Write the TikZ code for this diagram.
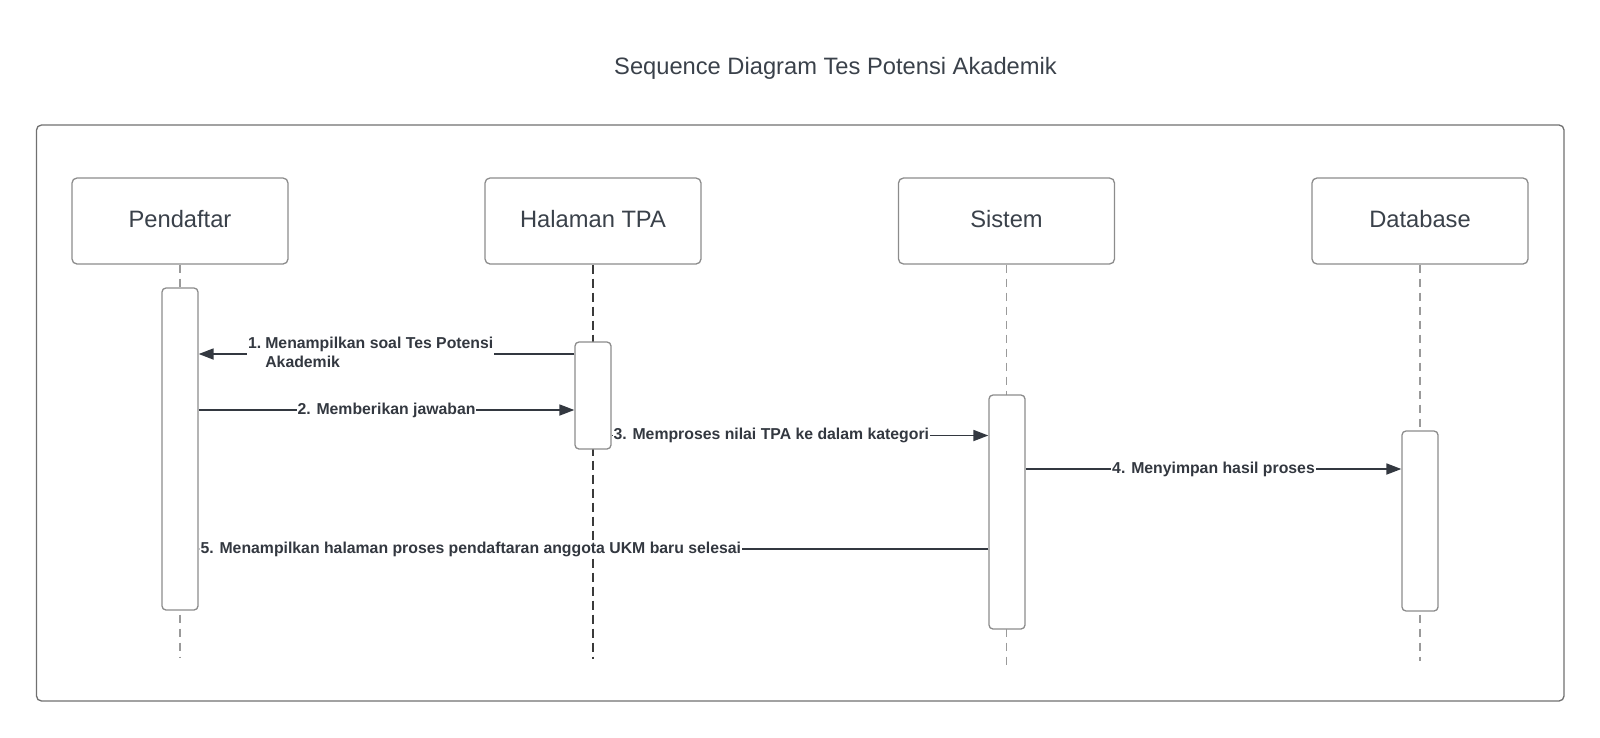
\documentclass[tikz,border=0pt]{standalone}
\usepackage{fontspec}
\setmainfont{Liberation Sans}
\usetikzlibrary{arrows.meta}
\definecolor{txt}{HTML}{3A414A}
\definecolor{msgc}{HTML}{333840}
\definecolor{boxc}{HTML}{8C8C8C}
\definecolor{framec}{HTML}{707070}
\definecolor{lifec}{HTML}{9A9A9A}
\definecolor{lifed}{HTML}{3A3A3A}
\begin{document}
\begin{tikzpicture}[x=1pt,y=-1pt,
  part/.style={draw=boxc, line width=1.3pt, rounded corners=5pt, fill=white,
    minimum width=216pt, minimum height=86pt, text=txt,
    font=\fontsize{23.7}{28}\selectfont, text height=17pt, text depth=5pt, inner sep=0pt},
  act/.style={draw=boxc, line width=1.3pt, rounded corners=4pt, fill=white,
    minimum width=36pt, inner sep=0pt},
  life/.style={draw=lifec, line width=1.2pt, dash pattern=on 8pt off 6pt},
  lifedark/.style={draw=lifed, line width=1.6pt, dash pattern=on 9pt off 5pt},
  msg/.style={draw=msgc, line width=1.8pt, -{Triangle[length=15pt,width=11pt]}},
  lbl/.style={fill=white, text=msgc, font=\fontsize{15.8}{18.7}\selectfont\bfseries,
    inner xsep=1pt, inner ysep=1pt, text height=11.5pt, text depth=3.3pt},
  lblmulti/.style={fill=white, text=msgc, font=\fontsize{15.8}{18.7}\selectfont\bfseries,
    inner xsep=1pt, inner ysep=1pt}
]
\useasboundingbox (0,0) rectangle (1600,737);

% title
\node[font=\fontsize{23.7}{28}\selectfont, text=txt, anchor=base] (title) at (835.5,74.5)
  {Sequence Diagram Tes Potensi Akademik};

% frame
\node[draw=framec, line width=1.3pt, rounded corners=5pt, minimum width=1527.5pt,
  minimum height=576pt, inner sep=0pt] (frame) at (800.25,413) {};

% participants
\node[part] (p) at (180,221) {Pendaftar};
\node[part] (h) at (593,221) {Halaman TPA};
\node[part] (s) at (1006.5,221) {Sistem};
\node[part] (d) at (1420,221) {Database};

% lifeline ends
\coordinate (pe) at (180,657);
\coordinate (he) at (593,659);
\coordinate (se) at (1006.5,665);
\coordinate (de) at (1420,661);

\draw[life] (p.south) -- (pe);
\draw[lifedark] (h.south) -- (he);
\draw[life] (s.south) -- (se);
\draw[life] (d.south) -- (de);

% activations
\node[act, minimum height=322pt] (pa) at (180,449) {};
\node[act, minimum height=107pt] (ha) at (593,395.5) {};
\node[act, minimum height=234pt] (sa) at (1007,512) {};
\node[act, minimum height=180pt] (da) at (1420,521) {};

% message levels
\coordinate (m1) at (0,354);
\coordinate (m2) at (0,410);
\coordinate (m3) at (0,435.5);
\coordinate (m4) at (0,469);
\coordinate (m5) at (0,549);

\draw[msg] (ha.west |- m1) -- node[lblmulti, pos=0.542]
  {\begin{tabular}{@{}l@{\hspace{4pt}}l@{}}1.&Menampilkan soal Tes Potensi\\ &Akademik\end{tabular}}
  (pa.east |- m1);
\draw[msg] (pa.east |- m2) -- node[lbl, midway] {2. Memberikan jawaban} (ha.west |- m2);
\draw[msg] (ha.east |- m3) -- node[lbl, pos=0, anchor=west] {3. Memproses nilai TPA ke dalam kategori} (sa.west |- m3);
\draw[msg] (sa.east |- m4) -- node[lbl, midway] {4. Menyimpan hasil proses} (da.west |- m4);
\draw[msg] (sa.west |- m5) -- node[lbl, pos=1, anchor=west] {5. Menampilkan halaman proses pendaftaran anggota UKM baru selesai} (pa.east |- m5);
\end{tikzpicture}
\end{document}
